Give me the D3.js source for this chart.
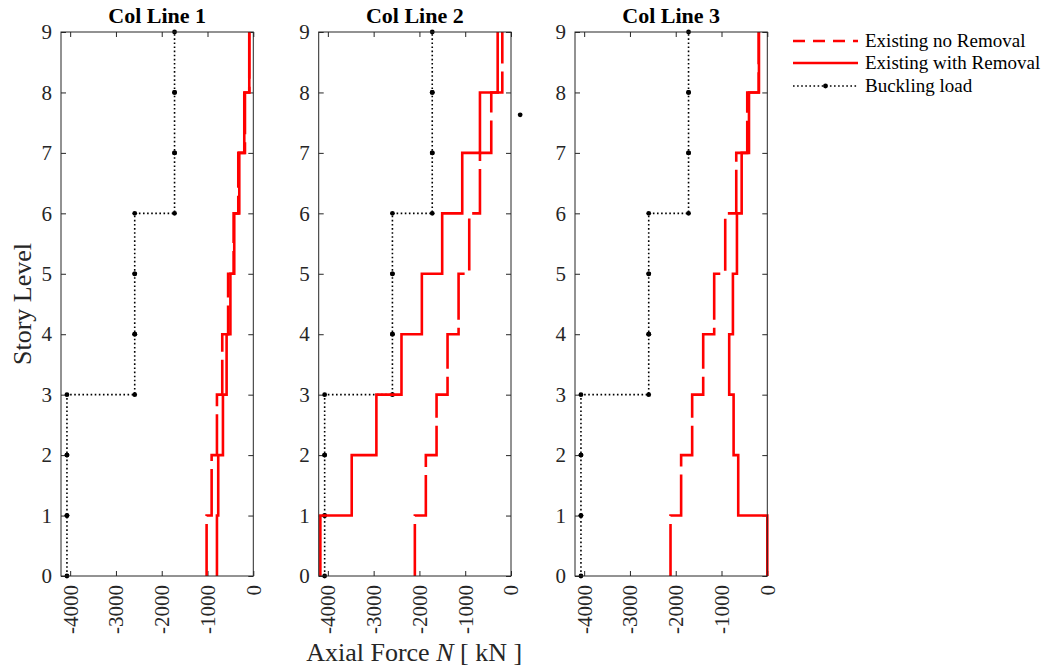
<!DOCTYPE html>
<html>
<head>
<meta charset="utf-8">
<script src="https://cdn.jsdelivr.net/npm/d3@7"></script>
<style>
  html, body { margin: 0; padding: 0; background: #fff; }
  svg { display: block; font-family: "Liberation Serif", "Times New Roman", serif; }
</style>
</head>
<body>
<svg id="chart" width="1049" height="669"></svg>
<script>
// Story levels and tick labels
const levelTicks = [0, 1, 2, 3, 4, 5, 6, 7, 8, 9];
const forceTicks = [-4000, -3000, -2000, -1000, 0];
const panelTitles = ["Col Line 1", "Col Line 2", "Col Line 3"];

// Axial force per story (story 1 = level 0-1 ... story 9 = level 8-9), kN
const noRemoval1   = [-1020, -910, -794, -678, -550, -430, -328, -182, -88];
const withRemoval1 = [-794, -766, -663, -583, -500, -416, -306, -197, -88];
const noRemoval2   = [-2100, -1860, -1626, -1386, -1145, -912, -678, -431, -190];
const withRemoval2 = [-4164, -3479, -2940, -2392, -1947, -1503, -1065, -678, -291];
const noRemoval3   = [-2114, -1882, -1641, -1400, -1160, -919, -678, -438, -188];
const withRemoval3 = [0, -635, -736, -832, -751, -663, -560, -400, -182];
const bucklingLoad = [-4070, -4070, -4070, -2590, -2590, -2590, -1720, -1720, -1720];
// lone marker left outside the Col Line 2 box (force, level)
const strayMarker2 = [[200, 7.63]];

const seriesNames = ["Existing no Removal", "Existing with Removal", "Buckling load"];

const panels = [
  { title: panelTitles[0], noRem: noRemoval1, withRem: withRemoval1, buck: bucklingLoad, extra: [] },
  { title: panelTitles[1], noRem: noRemoval2, withRem: withRemoval2, buck: bucklingLoad, extra: strayMarker2 },
  { title: panelTitles[2], noRem: noRemoval3, withRem: withRemoval3, buck: bucklingLoad, extra: [] }
];

const svg = d3.select("#chart");
const axisColor = "#262626";
const red = "#ff0000";
const dashPlot = "52,8";
const dotted = "1.6,2.5";

const panelLeft = [61, 318.7, 575];
const panelW = 192.3;
const plotTop = 32, plotBottom = 576;

const y = d3.scaleLinear().domain([0, 9]).range([plotBottom, plotTop]);

// Build the stepped polyline: each story value holds from level i to i+1
function stepPoints(vals) {
  const pts = [];
  vals.forEach((v, i) => { pts.push([v, i]); pts.push([v, i + 1]); });
  return pts;
}

panels.forEach((p, k) => {
  const x = d3.scaleLinear().domain([-4200, 0]).range([0, panelW]);
  const g = svg.append("g").attr("transform", `translate(${panelLeft[k]},0)`);
  const line = d3.line().x(d => x(d[0])).y(d => y(d[1]));

  // ticks (inward on all four sides)
  const axL = g.append("g").call(d3.axisLeft(y).tickValues(levelTicks).tickSize(-5).tickPadding(9).tickFormat(d3.format("d")));
  const axR = g.append("g").attr("transform", `translate(${panelW},0)`).call(d3.axisRight(y).tickValues(levelTicks).tickSize(-5).tickFormat(""));
  const axB = g.append("g").attr("transform", `translate(0,${plotBottom})`).call(d3.axisBottom(x).tickValues(forceTicks).tickSize(-5).tickFormat(d3.format("d")));
  const axT = g.append("g").attr("transform", `translate(0,${plotTop})`).call(d3.axisTop(x).tickValues(forceTicks).tickSize(-5).tickFormat(""));
  [axL, axR, axB, axT].forEach(a => {
    a.select(".domain").remove();
    a.selectAll(".tick line").attr("stroke", axisColor).attr("stroke-width", 1);
  });
  axL.selectAll(".tick text").attr("fill", axisColor).style("font-size", "21px").style("font-family", "Liberation Serif");
  axB.selectAll(".tick text")
    .attr("fill", axisColor)
    .attr("y", 0).attr("x", -9).attr("dy", "0.33em")
    .attr("transform", "rotate(-90)")
    .style("text-anchor", "end")
    .style("font-size", "21px").style("font-family", "Liberation Serif")
    .text(d => String(d));

  // buckling load: dotted with dot markers
  const bp = stepPoints(p.buck);
  g.append("path").attr("d", line(bp)).attr("fill", "none")
    .attr("stroke", "#000").attr("stroke-width", 1.6).attr("stroke-dasharray", dotted);
  g.selectAll("circle.bk").data(bp.concat(p.extra)).join("circle").attr("class", "bk")
    .attr("cx", d => x(d[0])).attr("cy", d => y(d[1])).attr("r", 2.4).attr("fill", "#000");

  // existing with removal (solid)
  g.append("path").attr("d", line(stepPoints(p.withRem))).attr("fill", "none")
    .attr("stroke", red).attr("stroke-width", 2.6);
  // existing no removal (dashed)
  g.append("path").attr("d", line(stepPoints(p.noRem))).attr("fill", "none")
    .attr("stroke", red).attr("stroke-width", 2.6).attr("stroke-dasharray", dashPlot);

  // frame
  g.append("rect").attr("x", 0).attr("y", plotTop).attr("width", panelW).attr("height", plotBottom - plotTop)
    .attr("fill", "none").attr("stroke", axisColor).attr("stroke-width", 1);

  // title
  g.append("text").attr("x", panelW / 2).attr("y", 23).attr("text-anchor", "middle")
    .style("font-size", "22px").style("font-weight", "bold").attr("fill", "#000").text(p.title);
});

// axis labels
svg.append("text").attr("transform", `translate(31,${(plotTop + plotBottom) / 2}) rotate(-90)`)
  .attr("text-anchor", "middle").style("font-size", "26px").attr("fill", axisColor).text("Story Level");

const xl = svg.append("text").attr("x", (panelLeft[0] + panelLeft[2] + panelW) / 2).attr("y", 661)
  .attr("text-anchor", "middle").style("font-size", "26px").attr("fill", axisColor);
xl.append("tspan").text("Axial Force ");
xl.append("tspan").style("font-style", "italic").text("N");
xl.append("tspan").text(" [ kN ]");

// legend
const legend = svg.append("g").attr("transform", "translate(793,0)");
const rows = [41, 63, 86];
legend.append("line").attr("x1", 0).attr("x2", 65).attr("y1", rows[0]).attr("y2", rows[0])
  .attr("stroke", red).attr("stroke-width", 2.6).attr("stroke-dasharray", "12,8");
legend.append("line").attr("x1", 0).attr("x2", 65).attr("y1", rows[1]).attr("y2", rows[1])
  .attr("stroke", red).attr("stroke-width", 2.6);
legend.append("line").attr("x1", 0).attr("x2", 65).attr("y1", rows[2]).attr("y2", rows[2])
  .attr("stroke", "#000").attr("stroke-width", 1.6).attr("stroke-dasharray", dotted);
legend.append("circle").attr("cx", 32.5).attr("cy", rows[2]).attr("r", 2.4).attr("fill", "#000");
seriesNames.forEach((n, i) => {
  legend.append("text").attr("x", 72).attr("y", rows[i]).attr("dy", "0.34em")
    .style("font-size", "19px").attr("fill", "#000").text(n);
});
</script>
</body>
</html>
